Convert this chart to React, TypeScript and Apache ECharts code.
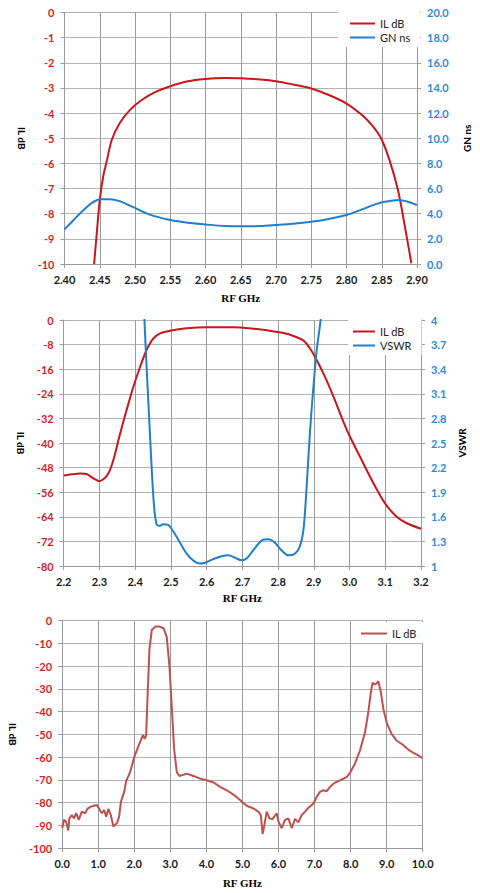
import React, { useEffect, useRef } from "react";
import * as echarts from "echarts";

// ---------- Chart 1: 2.40–2.90 GHz, IL dB + GN ns ----------
const c1IlFreq = [2.442, 2.446, 2.45, 2.455, 2.46, 2.467, 2.478, 2.493, 2.51, 2.53, 2.55, 2.575, 2.6, 2.627, 2.65, 2.678, 2.7, 2.724, 2.75, 2.775, 2.8, 2.822, 2.836, 2.849, 2.861, 2.873, 2.882, 2.892];
const c1Il = [-10, -8.7, -7.46, -6.5, -5.9, -5.07, -4.41, -3.87, -3.47, -3.15, -2.93, -2.73, -2.64, -2.6, -2.61, -2.66, -2.73, -2.86, -3.02, -3.28, -3.62, -4.08, -4.48, -5.0, -5.87, -7.06, -8.38, -9.97];
const c1GnFreq = [2.4, 2.413, 2.427, 2.44, 2.452, 2.464, 2.478, 2.496, 2.52, 2.55, 2.575, 2.6, 2.627, 2.65, 2.678, 2.7, 2.724, 2.75, 2.775, 2.8, 2.822, 2.845, 2.864, 2.875, 2.887, 2.9];
const c1Gn = [2.75, 3.5, 4.29, 4.9, 5.14, 5.14, 5.0, 4.56, 3.95, 3.5, 3.28, 3.15, 3.02, 3.0, 3.02, 3.1, 3.2, 3.36, 3.58, 3.89, 4.34, 4.82, 5.03, 5.09, 4.95, 4.69];

// ---------- Chart 2: 2.2–3.2 GHz, IL dB + VSWR ----------
const c2IlFreq = [2.2, 2.222, 2.246, 2.264, 2.283, 2.299, 2.311, 2.325, 2.339, 2.358, 2.376, 2.395, 2.414, 2.432, 2.451, 2.47, 2.498, 2.544, 2.6, 2.675, 2.731, 2.777, 2.815, 2.843, 2.871, 2.889, 2.908, 2.931, 2.955, 2.983, 2.999, 3.029, 3.057, 3.085, 3.104, 3.132, 3.16, 3.2];
const c2Il = [-50.6, -50.2, -49.9, -50.1, -51.5, -52.4, -51.8, -49.9, -45.5, -36.9, -29.3, -21.7, -15.2, -9.76, -5.96, -4.34, -3.47, -2.71, -2.38, -2.38, -2.82, -3.47, -4.23, -5.2, -6.72, -9.2, -13.0, -18.4, -24.9, -33.1, -37.4, -44.4, -50.9, -56.9, -60.4, -64.0, -66.1, -67.9];
const c2VsFreq = [2.421, 2.426, 2.432, 2.439, 2.446, 2.453, 2.46, 2.468, 2.479, 2.493, 2.507, 2.526, 2.544, 2.563, 2.581, 2.596, 2.619, 2.642, 2.661, 2.68, 2.698, 2.712, 2.731, 2.754, 2.773, 2.791, 2.81, 2.829, 2.847, 2.861, 2.871, 2.88, 2.889, 2.899, 2.908, 2.919, 2.927];
const c2Vs = [4.6, 4.0, 3.43, 2.82, 2.21, 1.72, 1.51, 1.49, 1.51, 1.5, 1.42, 1.28, 1.15, 1.065, 1.03, 1.04, 1.085, 1.12, 1.13, 1.1, 1.07, 1.09, 1.195, 1.31, 1.325, 1.285, 1.19, 1.13, 1.15, 1.24, 1.44, 1.97, 2.62, 3.19, 3.63, 4.0, 4.45];

// ---------- Chart 3: 0–10 GHz wideband IL dB ----------
const c3Freq = [0, 0.055, 0.11, 0.17, 0.2, 0.27, 0.33, 0.39, 0.46, 0.545, 0.64, 0.7, 0.795, 0.887, 0.96, 1.03, 1.1, 1.165, 1.22, 1.285, 1.35, 1.42, 1.47, 1.53, 1.58, 1.63, 1.72, 1.775, 1.885, 2.0, 2.12, 2.24, 2.29, 2.33, 2.366, 2.42, 2.486, 2.58, 2.7, 2.81, 2.9, 2.976, 3.04, 3.105, 3.18, 3.25, 3.457, 3.64, 3.83, 4.01, 4.2, 4.38, 4.565, 4.75, 4.935, 5.12, 5.305, 5.44, 5.51, 5.56, 5.61, 5.675, 5.75, 5.84, 5.95, 6.0, 6.09, 6.18, 6.275, 6.37, 6.46, 6.55, 6.645, 6.74, 6.83, 6.97, 7.06, 7.15, 7.245, 7.34, 7.43, 7.57, 7.71, 7.89, 7.985, 8.12, 8.26, 8.4, 8.49, 8.56, 8.61, 8.68, 8.72, 8.77, 8.835, 8.91, 9.0, 9.14, 9.28, 9.46, 9.6, 9.74, 9.88, 10.0];
const c3Il = [-91.3, -87.6, -88.5, -92.3, -87, -85.5, -87, -84.7, -87.6, -84, -84.7, -82.8, -81.8, -81.4, -81.1, -82.8, -84.7, -83.3, -86.2, -82.8, -85.5, -90.6, -89.8, -88.7, -86.2, -79.7, -75.3, -70.6, -66.6, -60, -55, -50.3, -52, -50.3, -34.6, -12.8, -4.1, -2.6, -2.6, -3.3, -7, -20, -37.5, -56.4, -66.6, -68.3, -67.3, -68.3, -69.5, -70.2, -71.2, -73.1, -74.6, -76.5, -78.9, -81.4, -82.6, -84, -85.5, -93.9, -89.8, -84, -87, -87.2, -84.7, -88.4, -91.3, -87.6, -87, -91.3, -87.2, -88.7, -85.5, -84, -82.3, -80.4, -77.5, -75.3, -74.6, -75.0, -73.1, -71.2, -70.2, -68.8, -66.9, -62.9, -57.1, -49.1, -40.4, -31.7, -27.3, -28.1, -27.6, -26.6, -31, -38.9, -44.8, -49.9, -52.8, -54.7, -56.7, -58.1, -59.3, -60.5];

const RED_LINE = "#C8161D";
const RED_LABEL = "#D41F26";
const BLUE_LINE = "#1F7FCC";
const BLUE_LABEL = "#2E8AD8";
const RED3 = "#C0504D";
const FONT = "Lato, 'Open Sans', sans-serif";
const SERIF = "'Liberation Serif', 'DejaVu Serif', serif";

const zip = (xs: number[], ys: number[]) => xs.map((x, i) => [x, ys[i]]);

function xAxisCfg(min: number, max: number, interval: number, dec: number, nameGap: number) {
  return {
    type: "value",
    min,
    max,
    interval,
    name: "RF GHz",
    nameLocation: "middle",
    nameGap,
    nameTextStyle: { fontFamily: SERIF, fontWeight: "bold", fontSize: 11, color: "#000" },
    axisLine: { show: true, onZero: false, lineStyle: { color: "#9a9a9a", width: 1 } },
    axisTick: { show: true, length: 4, lineStyle: { color: "#9a9a9a" } },
    axisLabel: {
      margin: 10,
      color: "#1a1a1a",
      fontFamily: FONT,
      fontWeight: "bold",
      fontSize: 11,
      formatter: (v: number) => v.toFixed(dec),
    },
    splitLine: { show: true, lineStyle: { color: "#9a9a9a", width: 1 } },
  };
}

function yAxisCfg(
  side: "left" | "right",
  min: number,
  max: number,
  interval: number,
  name: string,
  nameGap: number,
  color: string,
  fmt: (v: number) => string
) {
  return {
    type: "value",
    position: side,
    min,
    max,
    interval,
    name,
    nameLocation: "middle",
    nameGap,
    nameRotate: side === "left" ? -90 : 90,
    nameTextStyle: { fontFamily: FONT, fontWeight: "bold", fontSize: 10, color: "#000" },
    axisLine: { show: true, onZero: false, lineStyle: { color: "#9a9a9a", width: 1 } },
    axisTick: { show: true, length: 4, lineStyle: { color: "#9a9a9a" } },
    axisLabel: { margin: 10, color, fontFamily: FONT, fontWeight: "bold", fontSize: 11, formatter: fmt },
    splitLine: { show: side === "left", lineStyle: { color: "#b2b2b2", width: 1 } },
  };
}

function legendCfg(left: number, top: number, padding: number[], itemWidth: number) {
  return {
    orient: "vertical",
    left,
    top,
    padding,
    icon: "rect",
    itemWidth,
    itemHeight: 2,
    itemGap: 1,
    backgroundColor: "#ffffff",
    textStyle: { fontFamily: FONT, fontSize: 11, color: "#222", lineHeight: 13 },
  };
}

const option1 = {
  animation: false,
  grid: { left: 64.5, right: 57.5, top: 12.5, height: 251.5 },
  legend: { ...legendCfg(338, 12, [5, 10, 3, 12], 25), data: ["IL dB", "GN ns"] },
  xAxis: xAxisCfg(2.4, 2.9, 0.05, 2, 28),
  yAxis: [
    yAxisCfg("left", -10, 0, 1, "IL dB", 29, RED_LABEL, (v) => String(Math.round(v))),
    yAxisCfg("right", 0, 20, 2, "GN ns", 45, BLUE_LABEL, (v) => v.toFixed(1)),
  ],
  series: [
    { name: "IL dB", type: "line", yAxisIndex: 0, data: zip(c1IlFreq, c1Il), symbol: "none", smooth: 0.3, lineStyle: { color: RED_LINE, width: 2 }, itemStyle: { color: RED_LINE } },
    { name: "GN ns", type: "line", yAxisIndex: 1, data: zip(c1GnFreq, c1Gn), symbol: "none", smooth: 0.3, lineStyle: { color: BLUE_LINE, width: 2 }, itemStyle: { color: BLUE_LINE } },
  ],
};

const option2 = {
  animation: false,
  grid: { left: 63.7, right: 59, top: 20, height: 246 },
  legend: { ...legendCfg(348, 20, [5, 10, 3, 5], 22), data: ["IL dB", "VSWR"] },
  xAxis: xAxisCfg(2.2, 3.2, 0.1, 1, 26),
  yAxis: [
    yAxisCfg("left", -80, 0, 8, "IL dB", 28, RED_LABEL, (v) => String(Math.round(v))),
    yAxisCfg("right", 1, 4, 0.3, "VSWR", 33, BLUE_LABEL, (v) => String(Math.round(v * 10) / 10)),
  ],
  series: [
    { name: "IL dB", type: "line", yAxisIndex: 0, data: zip(c2IlFreq, c2Il), symbol: "none", smooth: 0.3, lineStyle: { color: RED_LINE, width: 2 }, itemStyle: { color: RED_LINE } },
    { name: "VSWR", type: "line", yAxisIndex: 1, data: zip(c2VsFreq, c2Vs), symbol: "none", smooth: 0.3, clip: true, lineStyle: { color: BLUE_LINE, width: 2 }, itemStyle: { color: BLUE_LINE } },
  ],
};

const option3 = {
  animation: false,
  grid: { left: 62, right: 57.3, top: 20.7, height: 229.3 },
  legend: { ...legendCfg(356, 22, [5, 8, 3, 5], 26), data: ["IL dB"] },
  xAxis: xAxisCfg(0, 10, 1, 1, 29),
  yAxis: [yAxisCfg("left", -100, 0, 10, "IL dB", 38, RED_LABEL, (v) => String(Math.round(v)))],
  series: [
    { name: "IL dB", type: "line", data: zip(c3Freq, c3Il), symbol: "none", lineStyle: { color: RED3, width: 2 }, itemStyle: { color: RED3 } },
  ],
};

function Chart({ option, top, height }: { option: any; top: number; height: number }) {
  const ref = useRef<HTMLDivElement>(null);
  useEffect(() => {
    if (!ref.current) return;
    const chart = echarts.init(ref.current, undefined, { renderer: "svg" });
    chart.setOption(option);
    return () => chart.dispose();
  }, [option]);
  return <div ref={ref} style={{ position: "absolute", left: 0, top, width: 480, height }} />;
}

export default function App() {
  return (
    <div style={{ position: "absolute", left: 0, top: 0, width: 480, height: 893, background: "#fff", overflow: "hidden" }}>
      <Chart option={option1} top={0} height={310} />
      <Chart option={option2} top={300} height={310} />
      <Chart option={option3} top={600} height={293} />
    </div>
  );
}
